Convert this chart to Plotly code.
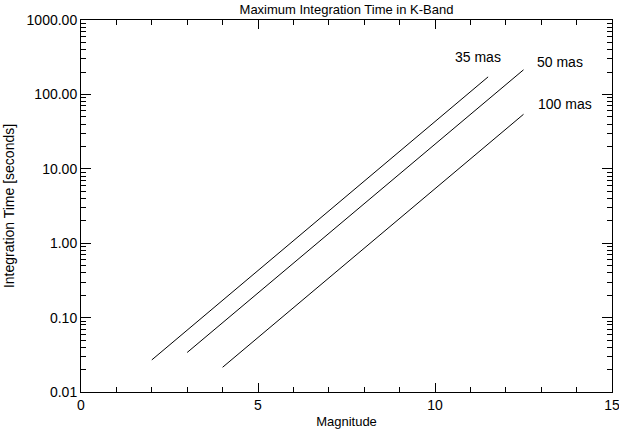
import math
import plotly.graph_objects as go

# Data
series_names = ["35 mas", "50 mas", "100 mas"]
mag_35 = [2.0, 11.5]
time_35 = [0.027, 172.0]
mag_50 = [3.0, 12.5]
time_50 = [0.034, 214.0]
mag_100 = [4.0, 12.5]
time_100 = [0.0215, 54.0]

label_x = [10.5, 12.82, 12.85]
label_y = [318.0, 272.0, 74.0]

ytick_vals = [0.01, 0.1, 1, 10, 100, 1000]
ytick_text = ["0.01", "0.10", "1.00", "10.00", "100.00", "1000.00"]
xtick_vals = [0, 5, 10, 15]

FONT = "Liberation Sans, Arial, sans-serif"

fig = go.Figure()
for xs, ys in [(mag_35, time_35), (mag_50, time_50), (mag_100, time_100)]:
    fig.add_trace(go.Scatter(x=xs, y=ys, mode="lines",
                             line=dict(color="black", width=1),
                             showlegend=False, hoverinfo="skip"))

for name, lx, ly in zip(series_names, label_x, label_y):
    fig.add_annotation(x=lx, y=math.log10(ly), yref="y", xref="x", text=name,
                       showarrow=False, xanchor="left", yanchor="middle",
                       font=dict(family=FONT, size=14, color="black"))

fig.update_layout(
    width=619, height=434,
    margin=dict(l=81, r=7, t=20, b=42),
    paper_bgcolor="white", plot_bgcolor="white",
    font=dict(family=FONT, size=14, color="black"),
    title=dict(text="Maximum Integration Time in K-Band", x=(81 + 612) / 2 / 619,
               xanchor="center", y=1 - 9 / 434, yanchor="middle",
               font=dict(family=FONT, size=13, color="black")),
    showlegend=False,
)

fig.update_xaxes(
    range=[0, 15], tickvals=xtick_vals, ticktext=[str(v) for v in xtick_vals],
    ticks="inside", ticklen=9, tickcolor="black", tickwidth=1,
    minor=dict(ticks="inside", ticklen=5, dtick=1, tickcolor="black", showgrid=False),
    showline=True, linecolor="black", linewidth=1, mirror="ticks",
    showgrid=False, zeroline=False, ticklabeloverflow="allow", automargin=False,
    title=dict(text="Magnitude", font=dict(family=FONT, size=13), standoff=5),
    tickfont=dict(family=FONT, size=14),
)

fig.update_yaxes(
    type="log", range=[-2, 3], tickvals=ytick_vals, ticktext=ytick_text,
    ticks="inside", ticklen=10, tickcolor="black", tickwidth=1,
    minor=dict(ticks="inside", ticklen=5, dtick="D1", tickcolor="black", showgrid=False),
    showline=True, linecolor="black", linewidth=1, mirror="ticks",
    showgrid=False, zeroline=False, automargin=False,
    title=dict(text="Integration Time [seconds]", font=dict(family=FONT, size=14), standoff=8),
    tickfont=dict(family=FONT, size=14),
)

fig.write_html("out.html")
